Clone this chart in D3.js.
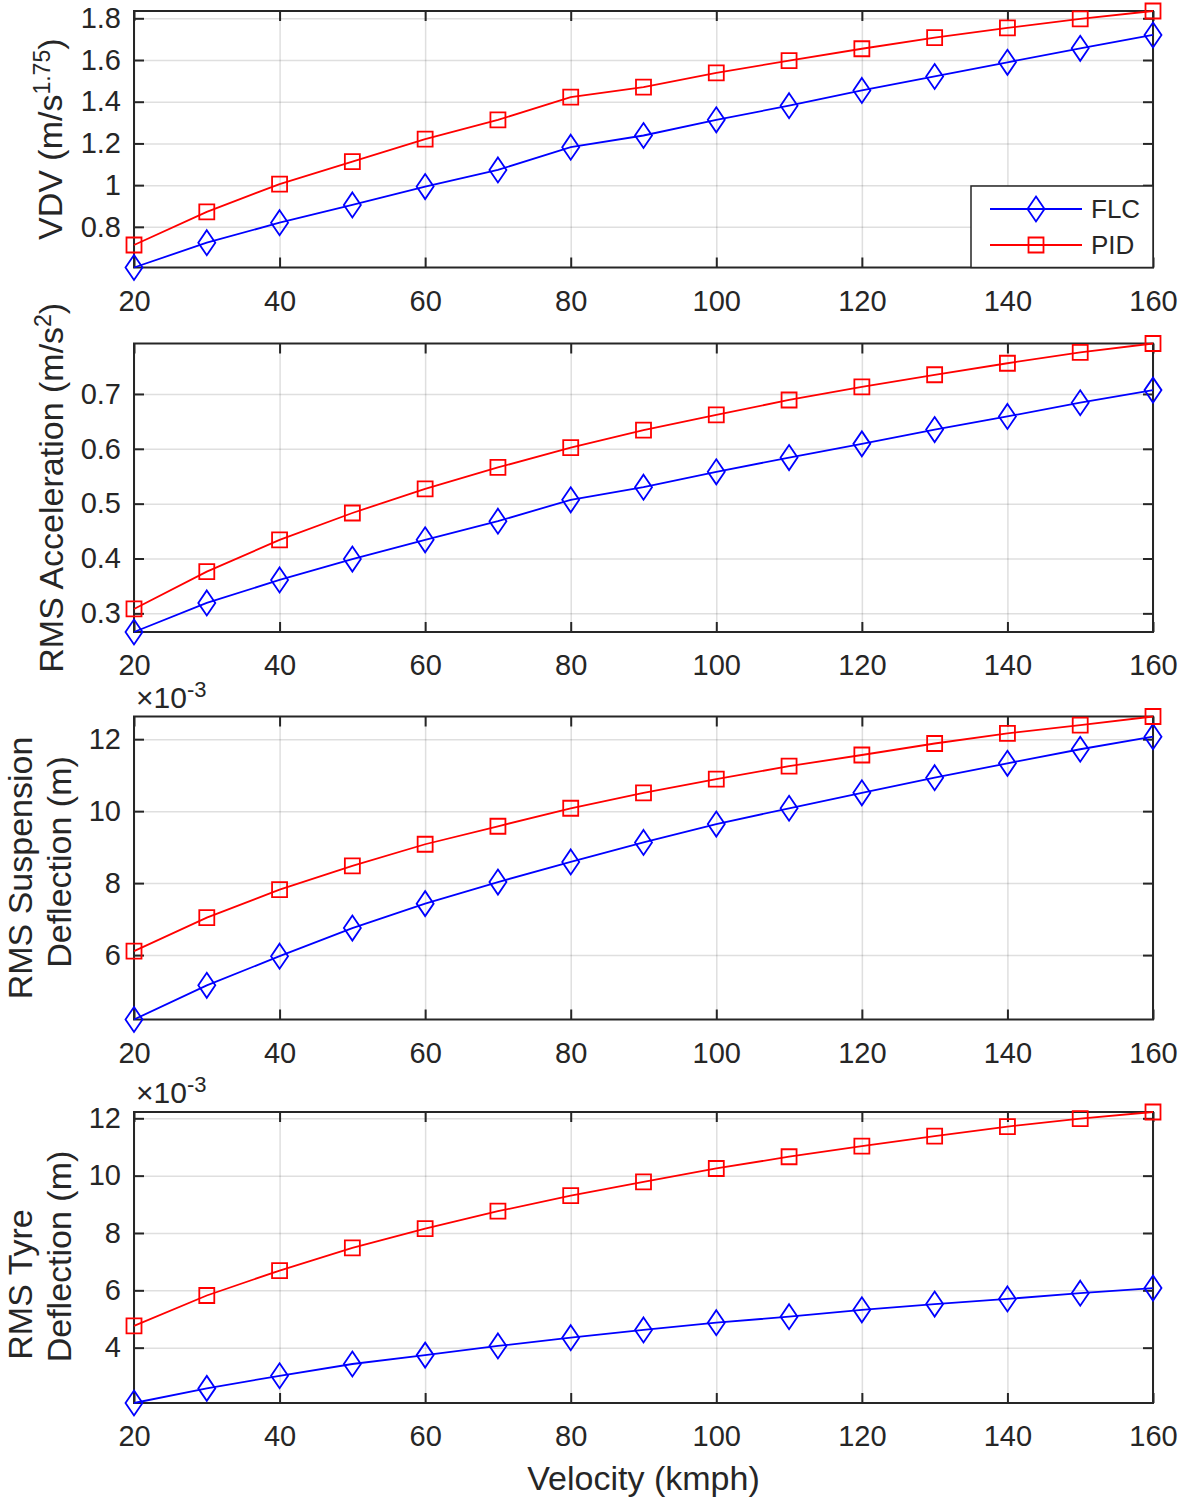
<!DOCTYPE html>
<html><head><meta charset="utf-8">
<script src="https://cdn.jsdelivr.net/npm/d3@7"></script>
<style>
body{margin:0;background:#fff}
svg{display:block}
text{font-family:"Liberation Sans",Arial,Helvetica,sans-serif;fill:#262626}
</style>
</head><body>
<svg id="chart" width="1181" height="1502"></svg>
<script>
// ---------- data ----------
const velocity = [20,30,40,50,60,70,80,90,100,110,120,130,140,150,160];
const xTicks = [20,40,60,80,100,120,140,160];
const seriesNames = ["FLC","PID"];

const vdvFLC = [0.605,0.724,0.820,0.905,0.993,1.073,1.182,1.238,1.313,1.381,1.454,1.521,1.589,1.656,1.720];
const vdvPID = [0.713,0.872,1.005,1.113,1.221,1.313,1.422,1.470,1.538,1.597,1.654,1.707,1.754,1.797,1.835];
const vdvTicks = [0.8,1,1.2,1.4,1.6,1.8];
const vdvTickLabels = ["0.8","1","1.2","1.4","1.6","1.8"];

const accFLC = [0.266,0.319,0.361,0.399,0.434,0.468,0.507,0.530,0.558,0.584,0.609,0.635,0.659,0.684,0.707];
const accPID = [0.308,0.376,0.434,0.483,0.527,0.566,0.602,0.634,0.662,0.689,0.713,0.735,0.756,0.776,0.792];
const accTicks = [0.3,0.4,0.5,0.6,0.7];
const accTickLabels = ["0.3","0.4","0.5","0.6","0.7"];

const suspFLC = [0.00421,0.00516,0.00597,0.00675,0.00743,0.00803,0.00859,0.00913,0.00964,0.01008,0.01051,0.01093,0.01133,0.01172,0.01207];
const suspPID = [0.00611,0.00704,0.00782,0.00848,0.00908,0.00958,0.01008,0.01051,0.01089,0.01125,0.01156,0.01188,0.01216,0.01239,0.01263];
const suspTicks = [0.006,0.008,0.010,0.012];
const suspTickLabels = ["6","8","10","12"];

const tyreFLC = [0.00207,0.00258,0.00302,0.00343,0.00374,0.00406,0.00435,0.00462,0.00487,0.00508,0.00532,0.00552,0.00570,0.00590,0.00608];
const tyrePID = [0.00476,0.00582,0.00669,0.00748,0.00815,0.00876,0.00930,0.00978,0.01025,0.01066,0.01103,0.01138,0.01171,0.01199,0.01222];
const tyreTicks = [0.004,0.006,0.008,0.010,0.012];
const tyreTickLabels = ["4","6","8","10","12"];

// ---------- layout ----------
const svg = d3.select("#chart");
const L = 134, R = 1153;
const colors = {FLC:"#0000ff", PID:"#ff0000"};
const INK = "#262626";
const TICK_FS = 29, LABEL_FS = 34;

const panels = [
  {top:11, bottom:267.5, flc:vdvFLC, pid:vdvPID, ticks:vdvTicks, labels:vdvTickLabels,
   ylabel:[[{t:"VDV (m/s"},{t:"1.75",sup:true},{t:")"}]], labelX:[62], labelDy:[0], legend:true},
  {top:343.5, bottom:632, flc:accFLC, pid:accPID, ticks:accTicks, labels:accTickLabels,
   ylabel:[[{t:"RMS Acceleration (m/s"},{t:"2",sup:true},{t:")"}]], labelX:[63], labelDy:[0]},
  {top:716.5, bottom:1019.5, flc:suspFLC, pid:suspPID, ticks:suspTicks, labels:suspTickLabels,
   ylabel:[[{t:"RMS Suspension"}],[{t:"Deflection (m)"}]], labelX:[32,71], labelDy:[0,-6], expo:true},
  {top:1112, bottom:1403, flc:tyreFLC, pid:tyrePID, ticks:tyreTicks, labels:tyreTickLabels,
   ylabel:[[{t:"RMS Tyre"}],[{t:"Deflection (m)"}]], labelX:[32,71], labelDy:[27,-1], expo:true}
];

const x = d3.scaleLinear().domain(d3.extent(velocity)).range([L, R]);

function diamondPath(cx, cy){ const w=8.5,h=12.5; return `M${cx},${cy-h}L${cx+w},${cy}L${cx},${cy+h}L${cx-w},${cy}Z`; }
function squarePath(cx, cy){ const s=7.5; return `M${cx-s},${cy-s}H${cx+s}V${cy+s}H${cx-s}Z`; }

panels.forEach(p => {
  const g = svg.append("g");
  const all = p.flc.concat(p.pid);
  const y = d3.scaleLinear().domain(d3.extent(all)).range([p.bottom, p.top]);
  const h = p.bottom - p.top, w = R - L;

  // grid
  g.append("g").attr("transform",`translate(0,${p.bottom})`)
    .call(d3.axisBottom(x).tickValues(xTicks).tickSize(-h).tickFormat(""))
    .call(s=>{s.select(".domain").remove(); s.selectAll("line").attr("stroke",INK).attr("stroke-opacity",0.15).attr("stroke-width",1.5);});
  g.append("g").attr("transform",`translate(${L},0)`)
    .call(d3.axisLeft(y).tickValues(p.ticks).tickSize(-w).tickFormat(""))
    .call(s=>{s.select(".domain").remove(); s.selectAll("line").attr("stroke",INK).attr("stroke-opacity",0.15).attr("stroke-width",1.5);});

  // ticks + labels
  const styleAxis = s => {
    s.select(".domain").remove();
    s.selectAll("line").attr("stroke",INK).attr("stroke-width",2);
    s.selectAll("text").attr("fill",INK).attr("font-size",TICK_FS).attr("font-family",'"Liberation Sans",Arial,sans-serif');
  };
  g.append("g").attr("transform",`translate(0,${p.bottom})`)
    .call(d3.axisBottom(x).tickValues(xTicks).tickSize(-10).tickSizeOuter(0).tickPadding(22.5).tickFormat(d3.format("d")))
    .call(styleAxis);
  g.append("g").attr("transform",`translate(0,${p.top})`)
    .call(d3.axisTop(x).tickValues(xTicks).tickSize(-10).tickSizeOuter(0).tickFormat(""))
    .call(styleAxis);
  g.append("g").attr("transform",`translate(${L},0)`)
    .call(d3.axisLeft(y).tickValues(p.ticks).tickSize(-10).tickSizeOuter(0).tickPadding(13).tickFormat((d,i)=>p.labels[i]))
    .call(styleAxis);
  g.append("g").attr("transform",`translate(${R},0)`)
    .call(d3.axisRight(y).tickValues(p.ticks).tickSize(-10).tickSizeOuter(0).tickFormat(""))
    .call(styleAxis);

  // box
  g.append("rect").attr("x",L).attr("y",p.top).attr("width",w).attr("height",h)
    .attr("fill","none").attr("stroke",INK).attr("stroke-width",2);

  // y label
  const cy = (p.top + p.bottom)/2;
  p.ylabel.forEach((parts, li) => {
    const t = g.append("text").attr("transform",`translate(${p.labelX[li]},${cy + p.labelDy[li]}) rotate(-90)`)
      .attr("text-anchor","middle").attr("font-size",LABEL_FS).attr("fill",INK);
    let raised = false;
    parts.forEach(pt => {
      const ts = t.append("tspan").text(pt.t);
      if (pt.sup) { ts.attr("font-size",23).attr("dy",-12); raised = true; }
      else if (raised) { ts.attr("dy",12); raised = false; }
    });
  });

  // exponent
  if (p.expo) {
    const t = g.append("text").attr("x",L+2).attr("y",p.top-9).attr("font-size",30).attr("fill",INK);
    t.append("tspan").text("\u00d710");
    t.append("tspan").text("-3").attr("font-size",22).attr("dy",-11);
  }

  // data
  const line = d3.line().x((d,i)=>x(velocity[i])).y(d=>y(d));
  [["FLC",p.flc],["PID",p.pid]].forEach(([name, vals]) => {
    g.append("path").datum(vals).attr("d",line).attr("fill","none")
      .attr("stroke",colors[name]).attr("stroke-width",1.8);
    g.selectAll(null).data(vals).join("path")
      .attr("d",(d,i)=> name==="FLC" ? diamondPath(x(velocity[i]),y(d)) : squarePath(x(velocity[i]),y(d)))
      .attr("fill","none").attr("stroke",colors[name]).attr("stroke-width",1.8);
  });

  // legend
  if (p.legend) {
    const lg = g.append("g");
    lg.append("rect").attr("x",971).attr("y",186).attr("width",R-971).attr("height",p.bottom-186)
      .attr("fill","#fff").attr("stroke",INK).attr("stroke-width",1.5);
    seriesNames.forEach((name, i) => {
      const ly = 209 + i*36;
      lg.append("line").attr("x1",990).attr("x2",1082).attr("y1",ly).attr("y2",ly)
        .attr("stroke",colors[name]).attr("stroke-width",1.8);
      lg.append("path").attr("d", name==="FLC" ? diamondPath(1036,ly) : squarePath(1036,ly))
        .attr("fill","none").attr("stroke",colors[name]).attr("stroke-width",1.8);
      lg.append("text").attr("x",1091).attr("y",ly).attr("dy","0.35em")
        .attr("font-size",26).attr("fill",INK).text(name);
    });
  }
});

// x label
svg.append("text").attr("x",(L+R)/2).attr("y",1490).attr("text-anchor","middle")
  .attr("font-size",LABEL_FS).attr("fill",INK).text("Velocity (kmph)");
</script>
</body></html>
